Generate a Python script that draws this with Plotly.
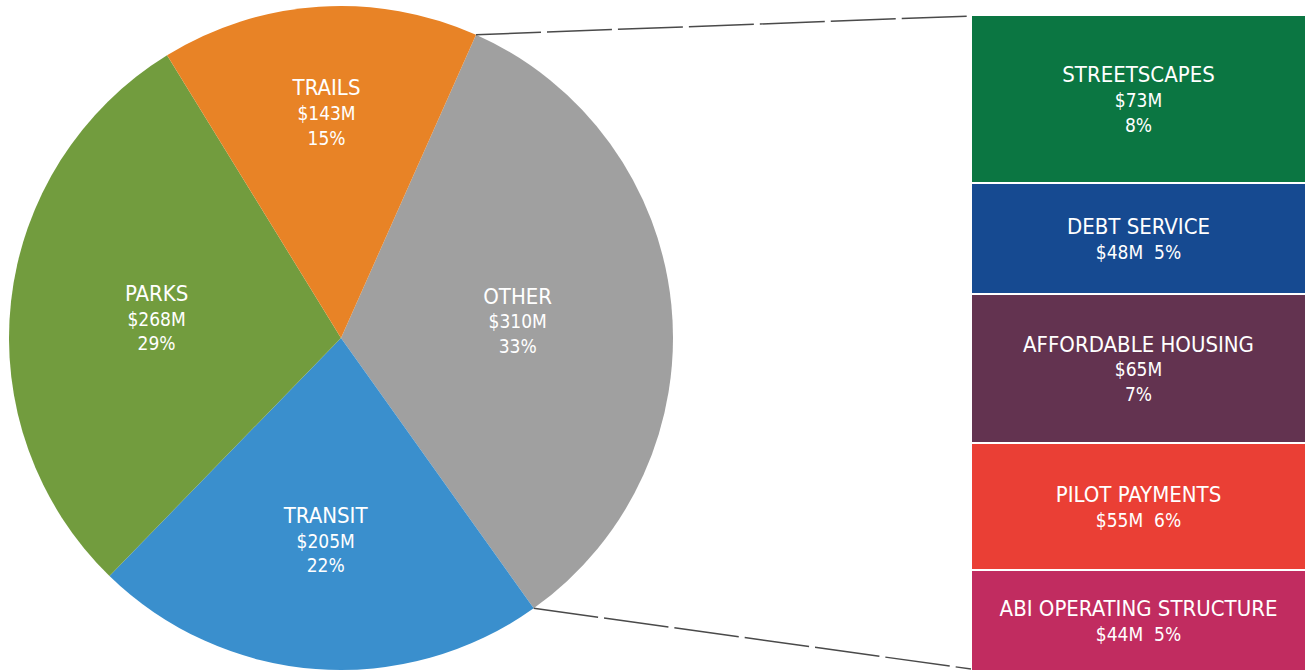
import math
import plotly.graph_objects as go

# ---- data ----
pie_labels = ["OTHER", "TRANSIT", "PARKS", "TRAILS"]
pie_values = [310, 205, 268, 143]
pie_pct = ["33%", "22%", "29%", "15%"]
pie_colors = ["#a0a0a0", "#3a8fcd", "#729c3e", "#e88326"]

bar_labels = ["STREETSCAPES", "DEBT SERVICE", "AFFORDABLE HOUSING", "PILOT PAYMENTS", "ABI OPERATING STRUCTURE"]
bar_values = [73, 48, 65, 55, 44]
bar_pct = ["8%", "5%", "7%", "6%", "5%"]
bar_colors = ["#0b7642", "#164a91", "#633350", "#ea3f35", "#c12c60"]
bar_sep = ["<br>", "  ", "<br>", "  ", "  "]

W, H = 1310, 671
FONT = "DejaVu Sans Condensed, Liberation Sans Narrow, Roboto, sans-serif"

# pie geometry (pixels)
cx, cy, R = 341, 338, 332
ROT = 24

fig = go.Figure()

pie_text = [f"<span style='font-size:22px'>{l}</span><br>${v}M<br>{p}"
            for l, v, p in zip(pie_labels, pie_values, pie_pct)]

fig.add_trace(go.Pie(
    labels=pie_labels, values=pie_values, text=pie_text,
    textinfo="text", textposition="inside", insidetextorientation="horizontal",
    sort=False, direction="clockwise", rotation=ROT,
    marker=dict(colors=pie_colors, line=dict(width=0)),
    textfont=dict(family=FONT, size=19, color="white"),
    domain=dict(x=[(cx - R) / W, (cx + R) / W], y=[1 - (cy + R) / H, 1 - (cy - R) / H]),
    showlegend=False, hoverinfo="label+value+percent",
))

for l, v, p, c, s in zip(bar_labels, bar_values, bar_pct, bar_colors, bar_sep):
    fig.add_trace(go.Bar(
        x=[0], y=[v], name=l, marker=dict(color=c, line=dict(color="white", width=2)),
        text=[f"<span style='font-size:22px'>{l}</span><br>${v}M{s}{p}"],
        textposition="inside", insidetextanchor="middle", textangle=0,
        constraintext="none",
        textfont=dict(family=FONT, size=19, color="white"),
        width=1, xaxis="x2", yaxis="y2", showlegend=False,
    ))

total_bar = sum(bar_values)
bx0, bx1, by0 = 971, 1306, 15

# connector lines from the OTHER slice edges to the bar corners
a0 = math.radians(ROT)
a1 = math.radians(ROT + 360 * pie_values[0] / sum(pie_values))
p0 = (cx + R * math.sin(a0), cy - R * math.cos(a0))
p1 = (cx + R * math.sin(a1), cy - R * math.cos(a1))
for (px, py), (qx, qy) in [(p0, (bx0, by0 + 1)), (p1, (bx0, H - 2))]:
    fig.add_shape(type="line", xref="paper", yref="paper",
                  x0=px / W, y0=1 - py / H, x1=qx / W, y1=1 - qy / H,
                  line=dict(color="#4a4a4a", width=1.5, dash="65px,6px"))

fig.update_layout(
    width=W, height=H, margin=dict(l=0, r=0, t=0, b=0),
    paper_bgcolor="white", plot_bgcolor="white",
    barmode="stack", bargap=0,
    xaxis2=dict(domain=[bx0 / W, bx1 / W], range=[-0.5, 0.5], visible=False, anchor="y2"),
    yaxis2=dict(domain=[0, 1 - by0 / H], range=[total_bar, 0], visible=False, anchor="x2"),
    font=dict(family=FONT),
)

fig.write_html("out.html")
